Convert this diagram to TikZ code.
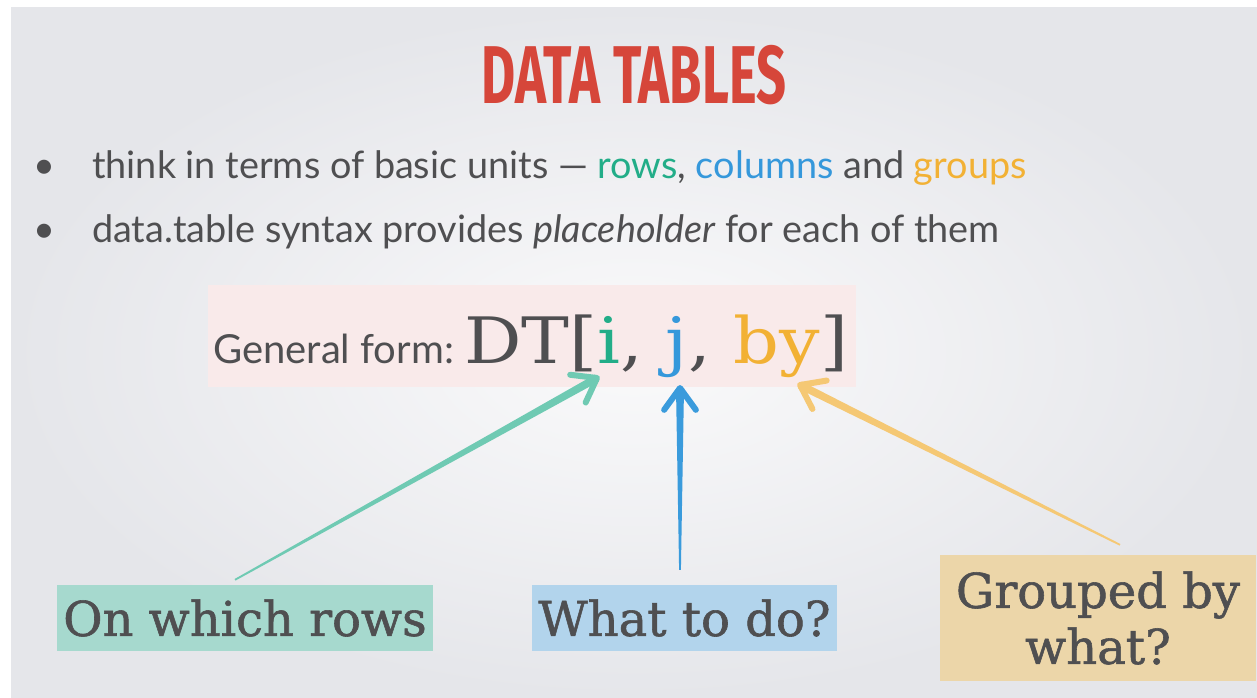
\documentclass[tikz,border=0pt]{standalone}
\usepackage{fontspec}
\setmainfont{Lato}
\newfontfamily\titlefont[FakeStretch=0.64]{Fira Sans}
\newfontfamily\slabfont[FakeBold=1.2]{DejaVu Serif}
\newfontfamily\codefont[FakeStretch=1.12]{DejaVu Serif}
\usepackage{tikz}
\usetikzlibrary{calc,positioning}
\usepackage{xcolor}
\definecolor{titlered}{HTML}{D6463A}
\definecolor{inkgrey}{HTML}{4F4F51}
\definecolor{rowgreen}{HTML}{22AD88}
\definecolor{colblue}{HTML}{3598DB}
\definecolor{grporange}{HTML}{F2B134}
\definecolor{rowarrow}{HTML}{6FCAB3}
\definecolor{colarrow}{HTML}{3A9BDC}
\definecolor{grparrow}{HTML}{F5C874}
\definecolor{rowfill}{HTML}{A6D9CE}
\definecolor{colfill}{HTML}{B2D4EC}
\definecolor{grpfill}{HTML}{ECD6A9}
\definecolor{formfill}{HTML}{F9EAEA}
\definecolor{slidecentre}{HTML}{FAFAFB}
\definecolor{slideedge}{HTML}{E5E6EA}

\tikzset{
  label box/.style={fill=#1, text=inkgrey, inner sep=0pt, align=center,
    font=\slabfont\fontsize{48}{56}\selectfont},
  bullet text/.style={anchor=base west, text=inkgrey, inner sep=0pt,
    font=\fontsize{37.8}{44}\selectfont},
}

\begin{document}
\begin{tikzpicture}[x=1pt,y=-1pt]
  \useasboundingbox (0,0) rectangle (1257,698);
  % slide background
  \fill[white] (0,0) rectangle (1257,698);
  \shade[inner color=slidecentre, outer color=slideedge] (11,8) rectangle (1257,698);

  % heading and bullets
  \node[anchor=base, inner sep=0pt, text=titlered,
    font=\titlefont\bfseries\fontsize{82}{82}\selectfont] (title) at (634,103) {DATA TABLES};
  \node[bullet text] (dot1) at (33,178) {•};
  \node[bullet text] (line1) at (92,178) {think in terms of basic units — {\color{rowgreen}rows}, {\color{colblue}columns} and {\color{grporange}groups}};
  \node[bullet text] (dot2) at (33,242) {•};
  \node[bullet text] (line2) at (92,242) {data.table syntax provides \textit{placeholder} for each of them};

  % general form
  \node[fill=formfill, minimum width=648pt, minimum height=102pt, inner sep=0pt] (formbox) at (532,336) {};
  \node[anchor=base west, inner sep=0pt, text=inkgrey,
    font=\fontsize{40}{44}\selectfont] (formlabel) at (213,363) {General form:};
  \node[anchor=base west, inner sep=0pt, text=inkgrey,
    font=\codefont\fontsize{64}{70}\selectfont] (formcode) at (464,363)
    {DT[{\color{rowgreen}i}, {\color{colblue}j}, {\color{grporange}by}]};
  \coordinate (itip) at (597,378);
  \coordinate (jtip) at (680,388);
  \coordinate (bytip) at (800,385);

  % what each placeholder means
  \node[label box=rowfill, minimum width=376pt, minimum height=66pt] (rowsbox) at (245,618) {On which rows};
  \node[label box=colfill, minimum width=305pt, minimum height=66pt] (colbox) at (684.5,618) {What to do?};
  \node[label box=grpfill, minimum width=316pt, minimum height=126pt] (grpbox) at (1098,618) {Grouped by\\what?};
  \coordinate (rowstart) at ($(rowsbox.north)+(-10,-5)$);
  \coordinate (colstart) at ($(colbox.north)+(-4.5,-15)$);
  \coordinate (grpstart) at ($(grpbox.north)+(22,-10)$);

  % brush-style arrows: tapered shaft, open head
  \foreach \src/\tip/\col in {rowstart/itip/rowarrow, colstart/jtip/colarrow, grpstart/bytip/grparrow} {
    \fill[\col] ($(\src)!0.9pt!90:(\tip)$) -- ($(\tip)!4pt!-90:(\src)$)
      -- ($(\tip)!4pt!90:(\src)$) -- ($(\src)!0.9pt!-90:(\tip)$) -- cycle;
    \draw[\col, line width=6pt, line cap=round, line join=round]
      ($(\tip)!27pt!36:(\src)$) -- (\tip) -- ($(\tip)!27pt!-36:(\src)$);
  }
\end{tikzpicture}
\end{document}
